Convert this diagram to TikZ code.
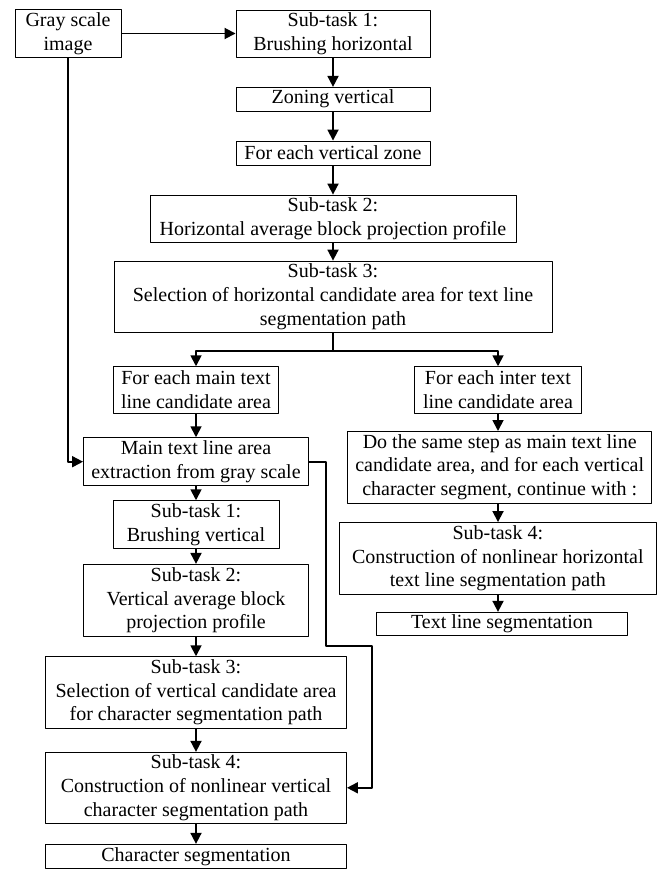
\documentclass[tikz,border=0pt]{standalone}
\usepackage{fontspec}
\setmainfont{Liberation Serif}
\usetikzlibrary{arrows.meta}

\begin{document}
\begin{tikzpicture}[x=1pt,y=-1pt,line join=round]
\tikzstyle{box} = [draw,line width=0.9pt,align=center,inner sep=0pt,font=\fontsize{20}{23.7}\selectfont]
\tikzstyle{arr} = [line width=1.8pt,-{Triangle[length=11pt,width=11pt]}]
\useasboundingbox (0,0) rectangle (662,869);
% left and top column
\node[box,minimum width=106pt,minimum height=48pt] (gray) at (68,33.5) {Gray scale\\image};
\node[box,minimum width=194pt,minimum height=47.3pt] (bh) at (333,33.7) {Sub-task 1:\\Brushing horizontal};
\node[box,minimum width=194pt,minimum height=23.7pt] (zone) at (333,99.2) {Zoning vertical};
\node[box,minimum width=194pt,minimum height=24pt] (fevz) at (333,153) {For each vertical zone};
\node[box,minimum width=366pt,minimum height=47.3pt] (hap) at (333,218.7) {Sub-task 2:\\Horizontal average block projection profile};
\node[box,minimum width=438pt,minimum height=71.3pt] (hsel) at (333,296.7) {Sub-task 3:\\Selection of horizontal candidate area for text line\\segmentation path};
\node[box,minimum width=165pt,minimum height=46.6pt] (fmain) at (196,390) {For each main text\\line candidate area};
\node[box,minimum width=167pt,minimum height=46.6pt] (finter) at (498,390) {For each inter text\\line candidate area};
\node[box,minimum width=225pt,minimum height=48pt] (mext) at (196,461.7) {Main text line area\\extraction from gray scale};
\node[box,minimum width=166pt,minimum height=47.6pt] (bv) at (196,524.5) {Sub-task 1:\\Brushing vertical};
\node[box,minimum width=225pt,minimum height=71.7pt] (vap) at (196,600.2) {Sub-task 2:\\Vertical average block\\projection profile};
\node[box,minimum width=301pt,minimum height=71.6pt] (vsel) at (196,692.5) {Sub-task 3:\\Selection of vertical candidate area\\for character segmentation path};
\node[box,minimum width=301pt,minimum height=71pt] (vcon) at (196,787.8) {Sub-task 4:\\Construction of nonlinear vertical\\character segmentation path};
\node[box,minimum width=301pt,minimum height=24pt] (cseg) at (196,856.3) {Character segmentation};
% right column
\node[box,minimum width=304pt,minimum height=71.5pt] (same) at (499.7,467.2) {Do the same step as main text line\\candidate area, and for each vertical\\character segment, continue with :};
\node[box,minimum width=317.7pt,minimum height=72pt] (hcon) at (497.8,558.5) {Sub-task 4:\\Construction of nonlinear horizontal\\text line segmentation path};
\node[box,minimum width=250.6pt,minimum height=23pt] (tseg) at (502,623.8) {Text line segmentation};
\coordinate (br) at (333,351);
\coordinate (k1) at (326,646);
\coordinate (k2) at (371.7,646);
% connectors
\draw[arr] (gray.east) -- (gray.east -| bh.west);
\draw[arr] (bh.south) -- (bh.south |- zone.north);
\draw[arr] (zone.south) -- (zone.south |- fevz.north);
\draw[arr] (fevz.south) -- (fevz.south |- hap.north);
\draw[arr] (hap.south) -- (hap.south |- hsel.north);
\draw[line width=1.8pt] (hsel.south) -- (br);
\draw[arr] (br) -| (fmain.north);
\draw[arr] (br) -| (finter.north);
\draw[arr] (fmain.south) -- (fmain.south |- mext.north);
\draw[arr] (mext.south) -- (mext.south |- bv.north);
\draw[arr] (bv.south) -- (bv.south |- vap.north);
\draw[arr] (vap.south) -- (vap.south |- vsel.north);
\draw[arr] (vsel.south) -- (vsel.south |- vcon.north);
\draw[arr] (vcon.south) -- (vcon.south |- cseg.north);
\draw[arr] (finter.south) -- (finter.south |- same.north);
\draw[arr] (finter.south |- same.south) -- (finter.south |- hcon.north);
\draw[arr] (finter.south |- hcon.south) -- (finter.south |- tseg.north);
\draw[arr] (gray.south) |- (mext.west);
\draw[arr] (mext.east) -| (k1) -- (k2) |- (vcon.east);
\end{tikzpicture}
\end{document}
